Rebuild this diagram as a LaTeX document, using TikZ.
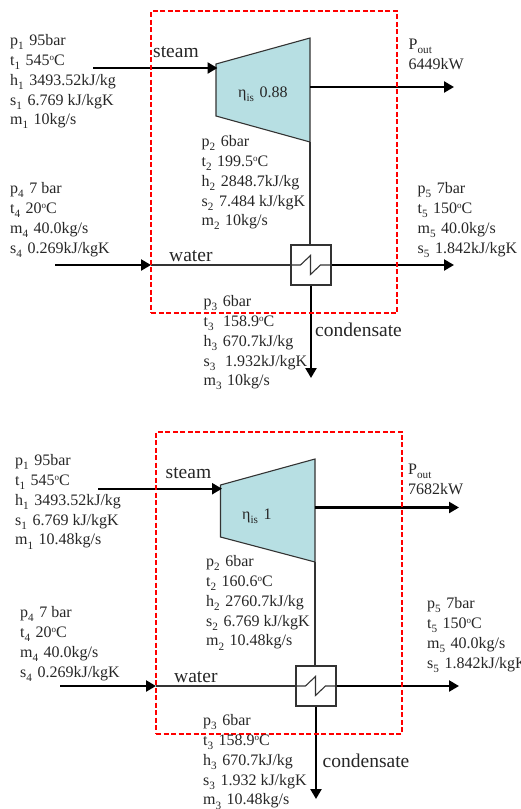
\documentclass[tikz,border=0pt]{standalone}
\usepackage{fontspec}
\usepackage{xcolor}
\setmainfont{Liberation Serif}
\usetikzlibrary{positioning,arrows.meta}
\definecolor{turbfill}{HTML}{B7DFE3}
\definecolor{linegrey}{HTML}{333333}
\newcommand{\tsub}[1]{\raisebox{-1.5pt}{\textsubscript{#1}}\kern1pt\relax}
\newcommand{\degc}{\raisebox{4.5pt}{\fontsize{9}{9}\selectfont o}C}

\begin{document}
\begin{tikzpicture}[
    x=1pt, y=-1pt,
    data/.style={anchor=north west, inner sep=0pt, align=left, text=black!85, font=\fontsize{16}{19.9}\selectfont},
    tag/.style={anchor=base west, inner sep=0pt, text=black!85, font=\fontsize{19.5}{22}\selectfont},
    flow/.style={draw=black, line width=2.3pt, -{Triangle[length=10pt, width=11pt]}},
    pipe/.style={draw=linegrey, line width=1.1pt},
    sysbox/.style={rectangle, draw=red, line width=2pt, dash pattern=on 5pt off 2.5pt, minimum width=246pt, minimum height=302pt, inner sep=0pt},
    hxbox/.style={rectangle, draw=linegrey, line width=1.1pt, fill=white, minimum width=40pt, minimum height=40pt, inner sep=0pt},
    turb/.style={draw=linegrey, line width=1.1pt, fill=turbfill}
]
\useasboundingbox (0,0) rectangle (521,809);

% first plant
\coordinate (turbtla) at (216,64);
\coordinate (turbtra) at (310,38);
\coordinate (turbbra) at (310,142);
\coordinate (turbbla) at (216,116);
\coordinate (steamina) at (93,68);
\coordinate (steamenda) at (217.5,68);
\coordinate (powina) at (310,87);
\coordinate (powouta) at (454,87);
\coordinate (waterina) at (55,265);
\coordinate (waterenda) at (151,265);
\coordinate (waterouta) at (454,265);
\coordinate (condouta) at (311,378);

\draw[turb] (turbtla) -- (turbtra) -- (turbbra) -- (turbbla) -- cycle;
\node[hxbox] (hxa) at (311,265) {};
\draw[pipe] (turbbra) -- (turbbra |- hxa.north);
\draw[pipe] (waterenda) -- (hxa.west);
\draw[pipe] (hxa.west) -- ++(10,0) -- ++(10,-9.5) -- ++(0,19) -- ++(10,-9.5) -- (hxa.east);
\draw[flow] (steamina) -- (steamenda);
\draw[flow] (powina) -- (powouta);
\draw[flow] (waterina) -- (waterenda);
\draw[flow] (hxa.east) -- (waterouta);
\draw[flow] (hxa.south) -- (condouta);
\node[sysbox] (sysa) at (274,162) {};

\node[data] (ina) at (10,34) {p\tsub{1} 95bar\\t\tsub{1} 545\degc\\h\tsub{1} 3493.52kJ/kg\\s\tsub{1} 6.769 kJ/kgK\\m\tsub{1} 10kg/s};
\node[data] (exa) at (201.5,135) {p\tsub{2} 6bar\\t\tsub{2} 199.5\degc\\h\tsub{2} 2848.7kJ/kg\\s\tsub{2} 7.484 kJ/kgK\\m\tsub{2} 10kg/s};
\node[data] (cwa) at (10,182) {p\tsub{4} 7 bar\\t\tsub{4} 20\degc\\m\tsub{4} 40.0kg/s\\s\tsub{4} 0.269kJ/kgK};
\node[data] (hwa) at (417.5,182) {p\tsub{5} 7bar\\t\tsub{5} 150\degc\\m\tsub{5} 40.0kg/s\\s\tsub{5} 1.842kJ/kgK};
\node[data] (cda) at (203.5,295) {p\tsub{3} 6bar\\t\tsub{3}\ \ 158.9\degc\\h\tsub{3} 670.7kJ/kg\\s\tsub{3}\ \ 1.932kJ/kgK\\m\tsub{3} 10kg/s};
\node[data] (powa) at (408.5,39) {P\tsub{out}\\6449kW};
\node[data, anchor=base west] (etaa) at (238,97.7) {η\tsub{is} 0.88};
\node[tag] (steama) at (153,57.3) {steam};
\node[tag] (watera) at (169,261) {water};
\node[tag] (conda) at (315,336.7) {condensate};

% second plant
\coordinate (turbtlb) at (220.5,485);
\coordinate (turbtrb) at (315,459);
\coordinate (turbbrb) at (315,562);
\coordinate (turbblb) at (220.5,537);
\coordinate (steaminb) at (98,488.7);
\coordinate (steamendb) at (222,488.7);
\coordinate (powinb) at (315,507.5);
\coordinate (powoutb) at (459,507.5);
\coordinate (waterinb) at (60,686);
\coordinate (waterendb) at (156,686);
\coordinate (wateroutb) at (459,686);
\coordinate (condoutb) at (316,799);

\draw[turb] (turbtlb) -- (turbtrb) -- (turbbrb) -- (turbblb) -- cycle;
\node[hxbox] (hxb) at (316,686) {};
\draw[pipe] (turbbrb) -- (turbbrb |- hxb.north);
\draw[pipe] (waterendb) -- (hxb.west);
\draw[pipe] (hxb.west) -- ++(10,0) -- ++(10,-9.5) -- ++(0,19) -- ++(10,-9.5) -- (hxb.east);
\draw[flow] (steaminb) -- (steamendb);
\draw[flow] (powinb) -- (powoutb);
\draw[flow] (waterinb) -- (waterendb);
\draw[flow] (hxb.east) -- (wateroutb);
\draw[flow] (hxb.south) -- (condoutb);
\node[sysbox] (sysb) at (279,582.5) {};

\node[data] (inb) at (15,454) {p\tsub{1} 95bar\\t\tsub{1} 545\degc\\h\tsub{1} 3493.52kJ/kg\\s\tsub{1} 6.769 kJ/kgK\\m\tsub{1} 10.48kg/s};
\node[data] (exb) at (206,555) {p\tsub{2} 6bar\\t\tsub{2} 160.6\degc\\h\tsub{2} 2760.7kJ/kg\\s\tsub{2} 6.769 kJ/kgK\\m\tsub{2} 10.48kg/s};
\node[data] (cwb) at (20,606) {p\tsub{4} 7 bar\\t\tsub{4} 20\degc\\m\tsub{4} 40.0kg/s\\s\tsub{4} 0.269kJ/kgK};
\node[data] (hwb) at (427,597) {p\tsub{5} 7bar\\t\tsub{5} 150\degc\\m\tsub{5} 40.0kg/s\\s\tsub{5} 1.842kJ/kgK};
\node[data] (cdb) at (203,714) {p\tsub{3} 6bar\\t\tsub{3} 158.9\degc\\h\tsub{3} 670.7kJ/kg\\s\tsub{3} 1.932 kJ/kgK\\m\tsub{3} 10.48kg/s};
\node[data] (powb) at (408,464) {P\tsub{out}\\7682kW};
\node[data, anchor=base west] (etab) at (242,519) {η\tsub{is} 1};
\node[tag] (steamb) at (165.5,478.3) {steam};
\node[tag] (waterb) at (174,682.3) {water};
\node[tag] (condb) at (322.5,767.3) {condensate};

\end{tikzpicture}
\end{document}
